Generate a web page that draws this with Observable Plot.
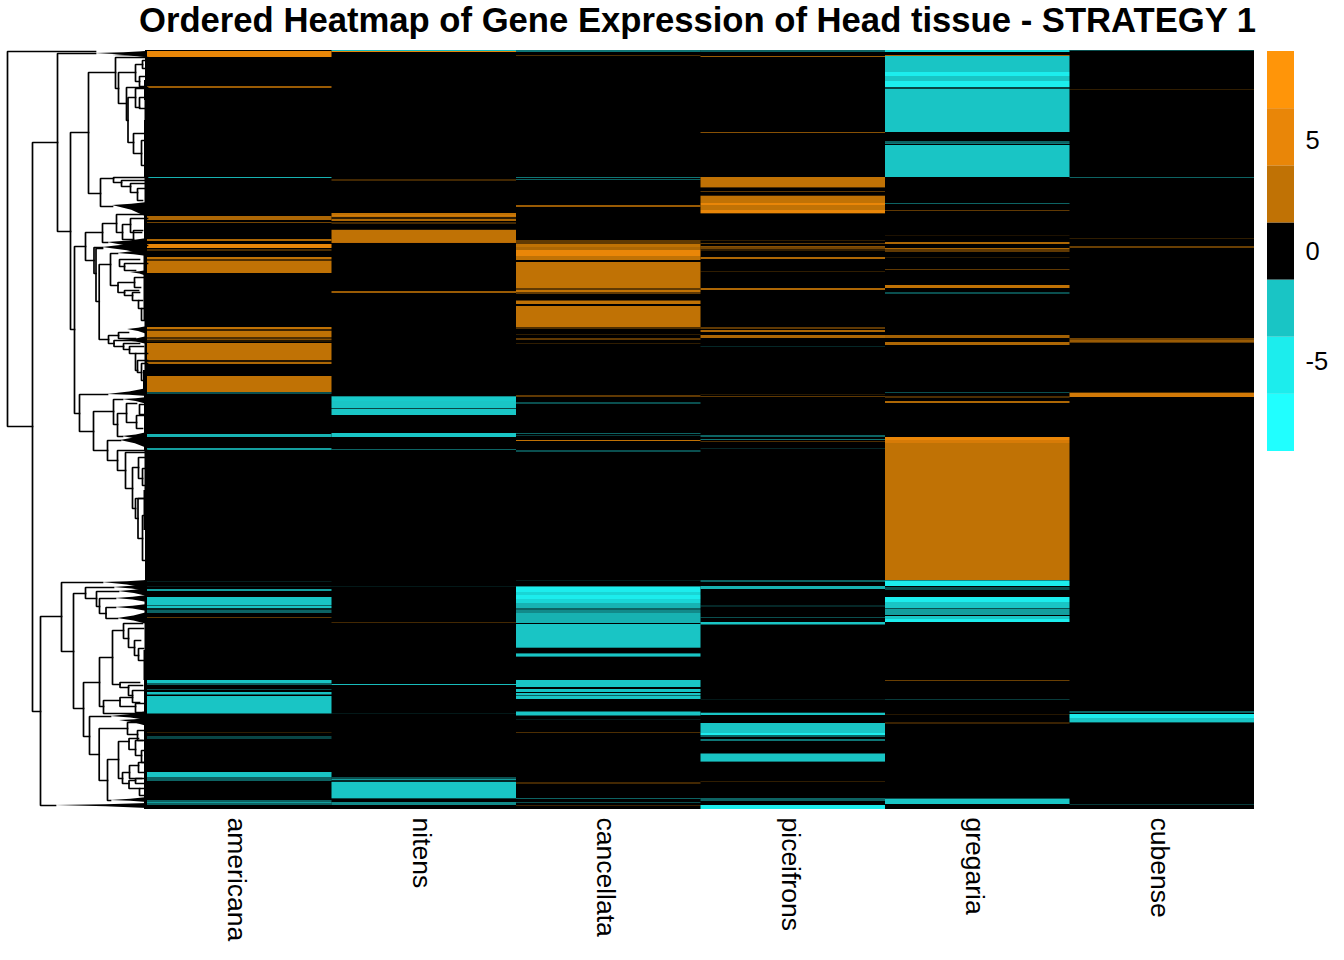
<!DOCTYPE html>
<html>
<head>
<meta charset="utf-8">
<script src="https://cdn.jsdelivr.net/npm/d3@7"></script>
<script src="https://cdn.jsdelivr.net/npm/@observablehq/plot@0.6"></script>
<style>
html,body{margin:0;padding:0;background:#fff;overflow:hidden}
#page{position:relative;width:1344px;height:960px}
#title{position:absolute;left:139px;top:0;height:40px;font:bold 34.65px/40px "Liberation Sans",Arial,sans-serif;white-space:nowrap;color:#000}
#heat{position:absolute;left:0;top:40px}
#legend{position:absolute;left:1267px;top:51px}
svg{display:block}
</style>
</head>
<body>
<div id="page">
<div id="title">Ordered Heatmap of Gene Expression of Head tissue - STRATEGY 1</div>
<div id="heat"></div>
<div id="legend"></div>
</div>
<script>
const species = ["americana","nitens","cancellata","piceifrons","gregaria","cubense"];
const rowCount = 759;
const breaks = [-9.07,-6.477,-3.886,-1.295,1.295,3.886,6.477,9.07];
const palette = ["#20FFFF","#1CEDED","#19C5C5","#000000","#C07205","#E98608","#FF9509"];
const legendTicks = [-5,0,5];

// bands: [first row, last row, expression, share of rows in the band that carry it]
const americana = [[1,7,5],[36,38,3,.8],[127,128,-3,.9],[166,170,3,.9],[172,173,3,.6],[189,191,3,.9],[194,198,5],[199,201,3,.4],[207,209,3],[209,211,3,.4],[211,223,3],
[277,279,3],[279,281,3,.3],[281,287,3],[287,289,3,.4],[289,290,3,.7],[290,291,3,.2],[291,292,3,.2],[293,310,3],[310,312,3,.2],[312,314,3,.9],[326,342,3],[342,344,-3,.4],
[384,387,-3,.9],[398,400,-3,.8],[531,532,-3,.15],[536,537,-3,.15],[539,541,-3,.8],[547,555,-3],[555,556,-3,.5],[556,558,-3],[558,560,-3,.2],[560,563,-3,.5],[567,568,3,.5],
[630,633,-3],[633,635,-3,.5],[639,640,-3,.4],[642,644,-3],[644,645,-3,.5],[646,663,-3],[663,664,-3,.5],[682,683,3,.25],[686,689,-3,.35],[722,727,-3],[727,731,-3,.5],[750,752,-3,.5],[752,753,-3,.8],[753,755,-3,.5]];
const nitens = [[0,1,-5,.8],[1,2,5],[129,131,3,.35],[163,165,3],[165,166,5,.9],[166,167,3],[167,169,3,.25],[169,171,3,.9],[172,174,3,.35],[179,180,3,.2],[180,192,3],[192,193,5,.8],[241,243,3,.8],
[346,347,-3,.7],[347,351,-5,.85],[351,358,-3],[358,359,-3,.35],[359,365,-3],[383,387,-3],[399,400,-3,.5],[536,537,-3,.12],[572,573,3,.35],[634,635,-3,.95],[663,664,-3,.12],
[727,729,-3,.4],[729,730,-3,.8],[730,732,-3,.2],[732,748,-3],[748,749,-3,.35],[752,755,-3,.7]];
const cancellata = [[0,2,-3,.6],[5,6,3,.4],[127,128,-3,.6],[129,130,-3,.5],[155,157,3,.8],[190,194,3,.5],[194,197,3],[197,200,3,.9],[200,206,5],[206,210,3],[212,238,3],[238,240,3,.5],[240,242,3],[242,244,3,.5],
[250,251,3,.5],[251,254,3],[256,277,3],[277,279,3,.4],[284,285,3,.25],[288,290,3,.5],[293,294,3,.25],[345,347,3,.5],[352,354,-3,.4],[383,384,-3,.5],[385,386,-3,.3],[390,391,3],[400,402,-3,.4],
[530,531,-3,.15],[536,537,-3,.7],[537,542,-5],[542,545,-5,.9],[545,549,-5],[549,553,-5,.9],[553,558,-3,.9],[558,560,-3,.5],[560,563,-3,.7],[563,573,-3,.9],[574,597,-3],[597,598,-3,.7],[603,604,-3,.6],[604,606,-3],[606,607,-3,.6],
[630,637,-3],[639,642,-3],[643,645,-3],[645,646,-3,.5],[646,649,-3],[661,662,-3,.5],[662,665,-3],[665,666,-3,.5],[669,670,-3,.15],[682,683,3,.4],[732,734,3,.35],[748,749,-3,.5],[752,753,-3,.4],[755,756,3,.3]];
const piceifrons = [[0,2,-3,.5],[6,7,3,.8],[82,83,3,.7],[127,137,3],[137,138,3,.4],[141,142,3,.5],[145,146,3,.3],[146,153,3],[153,155,5],[155,160,3],[160,163,5],[163,164,3,.4],
[190,191,3,.25],[193,194,3,.5],[196,197,3,.7],[197,199,3,.6],[199,201,3,.25],[207,209,3,.9],[221,222,3,.25],[238,240,3,.9],[277,279,3,.5],[280,282,3,.9],[285,288,3,.9],[296,297,-3,.2],[344,345,3,.2],[346,347,3,.5],
[385,387,-3,.5],[389,390,-3,.6],[391,392,3,.4],[398,399,-3,.2],[530,532,-3,.5],[536,539,-3,.9],[555,557,-3,.2],[567,568,-3,.4],[572,574,-3],[574,575,-3,.5],[649,650,-3,.12],[662,663,-3,.3],[663,665,-3],
[673,683,-3],[683,685,-5],[685,687,-3,.5],[689,691,-3,.6],[703,704,-3,.5],[704,711,-3],[711,712,-3,.6],[731,732,3,.25],[748,751,-3,.5],[755,759,-5]];
const gregaria = [[0,2,-5,.9],[5,6,3,.9],[6,22,-3],[22,26,-5],[26,31,-3],[31,37,-5],[37,39,-3,.35],[39,82,-3],[91,93,-3,.5],[93,94,-3,.6],[95,127,-3],
[153,154,-3,.5],[160,161,3,.5],[185,186,3,.15],[192,194,3,.9],[198,199,3,.9],[199,202,3,.5],[207,208,3,.2],[219,220,3,.5],[235,238,3],[242,244,-3,.4],[285,288,3,.85],[292,295,3,.9],
[342,343,-3,.4],[346,348,3,.4],[351,353,3,.9],[387,390,5],[390,393,5,.92],[393,530,3],[530,531,-3,.7],[531,536,-5],[537,540,-3,.4],[547,552,-5],[552,558,-3],[558,559,-3,.4],[559,565,-3,.8],[566,569,-3],[569,572,-5],
[630,631,3,.55],[649,650,-3,.3],[664,665,3,.2],[672,674,3,.3],[748,749,-3,.4],[749,754,-3]];
const cubense = [[0,1,-3,.4],[39,40,3,.25],[127,128,-3,.5],[188,189,3,.25],[196,198,3,.55],[288,290,3,.6],[290,292,3,.8],[292,293,3,.5],[342,343,3,.4],[343,347,5,.9],[661,663,-3,.5],[664,668,-5],[668,672,-3],[672,673,-3,.4],[754,755,-3,.3]];
const columns = [americana,nitens,cancellata,piceifrons,gregaria,cubense];

// dendrogram merges: [height, top row, bottom row, height of top child, height of bottom child]
const merges = [[140,1,376,52,115],[115,92,661,90,107],[90,3,181,52,77],[77,82,279,59,73],[59,22,143,32,47],[32,7,38,0,29],[29,22,53,12,21],[12,14,31,5,8],[5,10,18,0,2],[8,26,36,0,3],
[21,37,70,0,19.5],[19.5,47,92,12,14],[12,38,57,0,8],[8,47,58,0,3],[14,83,103,2,6],[6,90,115,0,3],[47,128,156,34,35],[34,127,132,0,26],[26,130,136,0,17],[17,133,142,0,10],[10,138,150,0,5],
[73,196,363,62,68],[62,182,210,45,53.5],[45,173,192,31,40],[31,164,182,5,25],[25,174,189,17,14],[17,168,182,0,6],[14,180,195,5,0],[53.5,197,223,45,51.5],[51.5,198,251,45,48.3],[48.3,214,289,37,39],[37,203,235,30,29.5],
[29.5,232,242,13,23],[13,227,237,0,7],[28,209,216,8,23],[23,213,220,0,12],[23,240,245,9,15],[15,242,250,8,9],[9,250,258,5,6],[6,258,270,3,3],
[39,285,293,29,33.5],[29,282,288,19,12],[33.5,290,296,4,24],[24,293,299,8,18],[18,296,303,4,12],[12,303,320,0,10],[10,310,322,0,6],[6,313,330,0,3],
[68,344,381,40,54],[54,361,400,34,40],[34,349,374,25,30],[30,363,386,21,25],[21,353,372,11,11],[8,354,364,0,4],[11,365,378,0,5],[40,390,410,27,30],[30,400,420,0,22],[22,402,438,0,15],[15,417,458,9,12],[9,407,428,0,5],[5,418,435,0,3],
[12,448,468,0,9.5],[9.5,448,488,0,5],[5,465,510,0,2],
[107,566,755,86,92],[86,532,601,45,74],[74,543,658,62,64],[62,537,548,34,51],[51,541,556,29,48],[48,548,563,32,41.5],[41.5,557,568,32,30],
[64,632,686,48,58],[48,607,656,35,44],[35,580,634,24,27.5],[24,573,588,5,19],[19,578,597,4,13],[13,590,605,7,9],[9,598,610,4,3],[27.5,632,637,8,19],[19,635,645,5,15],[15,640,652,3,8],
[44,650,663,27.5,10],[27.5,647,656,15,12],[12,653,662,3,3],[58,666,704,37,48.3],[48.3,678,730,20,40],[20,672,684,8,10],[10,680,690,4,4],[40,709,750,29,37],[29,691,728,18.5,25],[18.5,688,699,9,12],[12,690,705,5,6],[6,700,712,0,3],
[25,722,733,18,18.5],[18,715,728,9,6],[9,712,722,4,4],[18.5,730,738,12,8],[12,728,733,3,4],[8,738,745,3,3]];
// tight clusters too dense to separate: [height, apex row, first row, last row]
const clusters = [[52,3,1,7],[35,5,1,7],[35,155,152,167],[40,192,188,202],[45,197,190,205],[30,203,198,206],[17,222,220,226],[20,279,276,284],[25,290,286,294],[40,344,338,346],[25,349,347,354],[25,386,382,392],[27,390,383,398],
[45,532,530,538],[34,537,534,541],[29,541,538,546],[32,548,545,552],[32,557,554,561],[30,568,562,574],[37,666,661,670],[28,670,668,676],[37,750,747,752],[92,755,753,758]];
// leaves fringe: [first row, last row, height]
const fringe = [[0,30,2],[30,50,3],[50,70,2.5],[70,127,3],[127,160,2.5],[160,205,3],[205,270,3.5],[270,320,2.5],[320,340,4],[340,400,3],[400,440,2.5],[440,480,3.5],[480,530,2],[530,600,2.5],[600,630,3.5],[630,759,3]];

const heightPerColumn = 184.5;
const toX = h => -h / heightPerColumn;

const bands = columns.flatMap((col,i) => col.map(([a,b,v,s=1]) => ({i,a,b,v,s})));
const treePaths = merges.flatMap(([h,t,b,ht,hb],id) => [
  {id,x:toX(ht),y:t},{id,x:toX(h),y:t},{id,x:toX(h),y:b},{id,x:toX(hb),y:b}]);
// a cluster fans out slowly at first, then reaches its full span near the leaves
const clusterShapes = clusters.flatMap(([h,apex,t,b],id) => [
  {id,x:toX(h),y1:apex,y2:apex},
  {id,x:toX(h*.45),y1:apex+(t-apex)*.4,y2:apex+(b-apex)*.4},
  {id,x:0,y1:t,y2:b}]);

const colorOpt = {type:"threshold",domain:breaks.slice(1,-1),range:palette};

const heat = Plot.plot({
  width:1344,height:920,margin:0,
  x:{domain:[-147/184.5,(1344-147)/184.5],range:[0,1344],axis:null},
  y:{domain:[-10,910],range:[0,920],axis:null},
  color:colorOpt,
  opacity:{domain:[0,1],range:[0,1]},
  style:{background:"#fff",fontFamily:"'Liberation Sans',Arial,sans-serif"},
  marks:[
    Plot.rect([species.length],{x1:()=>0,x2:d=>d,y1:()=>0,y2:()=>rowCount,fill:"#000"}),
    Plot.rect(bands,{x1:"i",x2:d=>d.i+1,y1:"a",y2:"b",fill:"v",fillOpacity:"s"}),
    Plot.rect(fringe,{x1:d=>toX(d[2]),x2:()=>0,y1:d=>d[0],y2:d=>d[1],fill:"#000"}),
    Plot.area(clusterShapes,{x1:"x",x2:"x",y1:"y1",y2:"y2",z:"id",fill:"#000"}),
    Plot.line(treePaths,{x:"x",y:"y",z:"id",stroke:"#000",strokeWidth:1.7,strokeLinejoin:"miter",strokeLinecap:"square"}),
    Plot.text(species,{x:(d,i)=>i+.5,y:()=>767,text:d=>d,rotate:90,textAnchor:"start",fontSize:26.5,dx:-3,fill:"#000"})
  ]
});
document.getElementById("heat").appendChild(heat);

const swatches = palette.map((c,i)=>({c,lo:breaks[i],hi:breaks[i+1]}));
const legend = Plot.plot({
  width:77,height:400,marginTop:0,marginBottom:0,marginLeft:0,marginRight:50,
  x:{domain:[0,1],axis:null},
  y:{domain:[breaks[0],breaks[7]],axis:null},
  style:{background:"transparent",fontFamily:"'Liberation Sans',Arial,sans-serif",overflow:"visible"},
  marks:[
    Plot.rect(swatches,{x1:()=>0,x2:()=>1,y1:"lo",y2:"hi",fill:d=>d.c}),
    Plot.axisY(legendTicks,{anchor:"right",tickSize:0,tickPadding:11,fontSize:25.5,textAnchor:"start",tickFormat:d=>String(d),color:"#000"})
  ]
});
document.getElementById("legend").appendChild(legend);
</script>
</body>
</html>
